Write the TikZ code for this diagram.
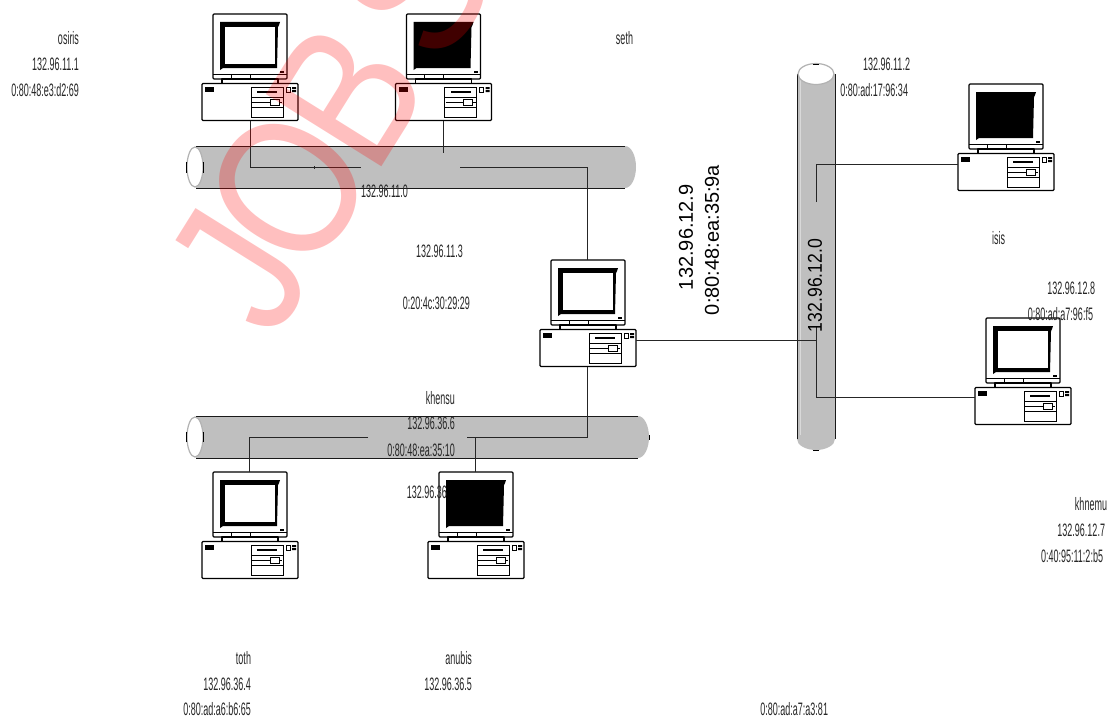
\documentclass[tikz,border=0pt]{standalone}
\usepackage{fontspec}
\setmainfont{Liberation Sans}
\newcommand{\lbl}[1]{\scalebox{.5}[1]{\fontsize{18}{18}\selectfont #1}}
\tikzset{
  every node/.style={inner sep=0pt,outer sep=0pt},
  wire/.style={draw=black!85,line width=.9pt},
  tag/.style={anchor=east,text=black!85},
  bline/.style={draw=black!90,line width=.8pt},
  busfill/.style={fill=black!25,draw=none},
  endcap/.style={fill=white,draw=black!30,line width=1.2pt},
  thick1/.style={line width=1.2pt,line join=round},
  computer/.pic={
    \path[draw=black,fill=white,thick1,rounded corners=1pt] (0,0) rectangle (74,65);
    \coordinate (-top) at (36,0);
    \draw[line width=.7pt] (0,60) -- (74,60) (18,60) -- (18,65) (37,60) -- (37,65);
    \draw[thick1,fill=white] (9,65) rectangle (65,70);
    \fill (7,8) -- (67,8) -- (66,11) -- (65,13) -- (64,54) -- (10,54) -- (7,56) -- cycle;
    \fill[fill=#1] (12,13) rectangle (62,50);
    \fill (67,57) rectangle (71,58.5);
    \node[draw=black,fill=white,line width=1.2pt,rounded corners=1pt,minimum width=96pt,minimum height=37pt,anchor=north west] (-case) at (-11,69.5) {};
    \fill (-8,73) rectangle (1,77.5);
    \draw[line width=.6pt] (38,73) rectangle (70,103) (38,83.5) -- (70,83.5) (38,93) -- (70,93);
    \fill (44,77) rectangle (64,79);
    \draw[line width=.7pt] (39,88) -- (69,88);
    \draw[line width=.6pt,fill=white] (57,85) rectangle (66,91.5);
    \draw[line width=.6pt] (73,73) rectangle (77,78);
    \fill (79,73) rectangle (83,75) (79,76) rectangle (83,78);
  }
}
\begin{document}
\begin{tikzpicture}[x=1pt,y=-1pt]
\useasboundingbox (0,0) rectangle (1110,717);
% buses
\fill[busfill] (196,146) rectangle (625,188);
\fill[busfill] (625,167) ellipse (11 and 21);
\draw[bline] (196,146) -- (625,146) (196,188) -- (625,188);
\draw[endcap] (195,167) ellipse (8 and 20);
\draw[line width=.8pt] (186,162) -- (186,173) (203,162) -- (203,173);
\fill[busfill] (196,416) rectangle (638,458);
\fill[busfill] (638,437) ellipse (11 and 21);
\draw[bline] (196,416) -- (638,416) (196,458) -- (638,458);
\draw[endcap] (195,437) ellipse (8 and 20);
\draw[line width=.8pt] (186,432) -- (186,442) (203,432) -- (203,442) (649,435) -- (649,440);
\fill[busfill] (797,74) rectangle (835,439);
\fill[busfill] (816,439) ellipse (19 and 11);
\draw[bline] (797,74) -- (797,439) (835,74) -- (835,439);
\draw[black!15,line width=.8pt] (800,80) -- (800,435);
\draw[endcap] (816,74) ellipse (18 and 10.5);
\draw[line width=.8pt] (813,64) -- (819,64) (813,450) -- (819,450);
% computers
\pic (osiris) at (213,14) {computer=white};
\pic (seth) at (406.5,14) {computer=black};
\pic (khensu) at (551,260) {computer=white};
\pic (isis) at (969,84) {computer=black};
\pic (khnemu) at (986,318) {computer=white};
\pic (toth) at (213,472) {computer=white};
\pic (anubis) at (439,472) {computer=black};
% connectors
\coordinate (a1) at (361,167);
\coordinate (a2) at (460,167);
\coordinate (s1) at (443,153);
\coordinate (b1) at (368,437);
\coordinate (b2) at (467,437);
\coordinate (v1) at (816,202);
\coordinate (v2) at (816,327);
\draw[wire] (osiris-case.south -| 250,0) -- (250,167) -- (a1);
\draw[wire] (314,166) -- (314,169);
\draw[wire] (seth-case.south -| s1) -- (s1);
\draw[wire] (a2) -- (khensu-top |- a2) -- (khensu-top);
\draw[wire] (khensu-case.south -| khensu-top) -- (khensu-top |- b2) -- (b2);
\draw[wire] (b1) -- (toth-top |- b1) -- (toth-top);
\draw[wire] (anubis-top |- b2) -- (anubis-top);
\draw[wire] (khensu-case.east |- 0,340) -- (816,340);
\draw[wire] (v2) -- (816,397) -- (khnemu-case.west |- 0,397);
\draw[wire] (v1) -- (816,164) -- (isis-case.west |- 0,164);
% labels
\node[tag] at (79,38) {\lbl{osiris}};
\node[tag] at (79,64) {\lbl{132.96.11.1}};
\node[tag] at (79,90) {\lbl{0:80:48:e3:d2:69}};
\node[tag] at (633,38) {\lbl{seth}};
\node[tag] at (910,64) {\lbl{132.96.11.2}};
\node[tag] at (908,90) {\lbl{0:80:ad:17:96:34}};
\node[tag] at (408,191) {\lbl{132.96.11.0}};
\node[tag] at (463,251) {\lbl{132.96.11.3}};
\node[tag] at (470,303) {\lbl{0:20:4c:30:29:29}};
\node[tag] at (1005,238) {\lbl{isis}};
\node[tag] at (1095,288) {\lbl{132.96.12.8}};
\node[tag] at (1093,314) {\lbl{0:80:ad:a7:96:f5}};
\node[tag] at (455,398) {\lbl{khensu}};
\node[tag] at (455,423) {\lbl{132.96.36.6}};
\node[tag] at (455,450) {\lbl{0:80:48:ea:35:10}};
\node[tag] at (447,492) {\lbl{132.96.36}};
\node[tag] at (251,658) {\lbl{toth}};
\node[tag] at (251,684) {\lbl{132.96.36.4}};
\node[tag] at (251,709) {\lbl{0:80:ad:a6:b6:65}};
\node[tag] at (472,658) {\lbl{anubis}};
\node[tag] at (472,684) {\lbl{132.96.36.5}};
\node[tag] at (828,709) {\lbl{0:80:ad:a7:a3:81}};
\node[tag] at (1107,504) {\lbl{khnemu}};
\node[tag] at (1105,530) {\lbl{132.96.12.7}};
\node[tag] at (1103,556) {\lbl{0:40:95:11:2:b5}};
\node[rotate=90,anchor=west,font=\fontsize{20}{20}\selectfont] at (686,290) {132.96.12.9};
\node[rotate=90,anchor=west,font=\fontsize{20}{20}\selectfont] at (712,315) {0:80:48:ea:35:9a};
\node[rotate=90,anchor=west,font=\fontsize{20}{20}\selectfont] at (815,332) {\scalebox{.88}[1]{132.96.12.0}};
% watermark
\node[rotate=58,anchor=base west,text=red,text opacity=.25,font=\fontsize{198}{198}\selectfont] (wm) at (273,341) {\scalebox{.85}[1]{J\kern-14pt O\kern-14pt B\kern20pt S}};
\end{tikzpicture}
\end{document}
